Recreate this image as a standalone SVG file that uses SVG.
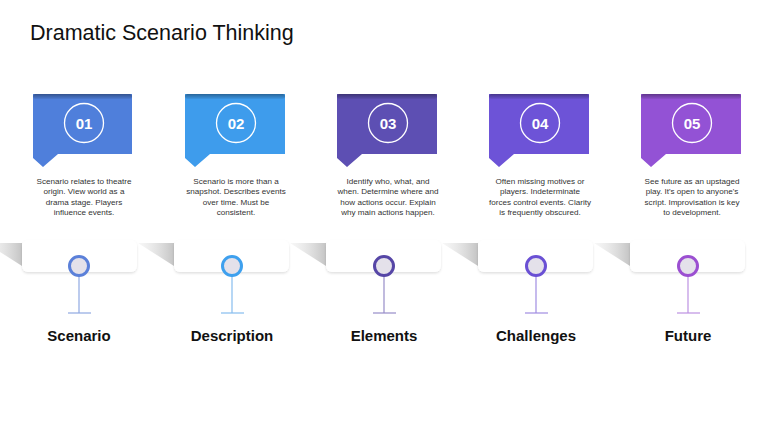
<svg xmlns="http://www.w3.org/2000/svg" width="768" height="432" viewBox="0 0 768 432">
<defs>
<linearGradient id="wedge" x1="0" y1="0" x2="1" y2="0">
<stop offset="0" stop-color="#e6e6e6" stop-opacity="0.3"/>
<stop offset="1" stop-color="#c4c4c4"/>
</linearGradient>
<linearGradient id="band" x1="0" y1="0" x2="0" y2="1">
<stop offset="0" stop-color="#000" stop-opacity="0.35"/>
<stop offset="1" stop-color="#000" stop-opacity="0.05"/>
</linearGradient>
<filter id="sh" x="-10%" y="-30%" width="120%" height="160%">
<feDropShadow dx="0" dy="1.5" stdDeviation="1.2" flood-color="#000" flood-opacity="0.12"/>
</filter>
</defs>
<style>
.title{font-family:"Liberation Sans",Arial,sans-serif;font-size:21.5px;fill:#111}
.num{font-family:"Liberation Sans",Arial,sans-serif;font-size:15px;font-weight:bold;fill:#fff;text-anchor:middle}
.desc{font-family:"Liberation Sans",Arial,sans-serif;font-size:8.1px;fill:#333;text-anchor:middle}
.lab{font-family:"Liberation Sans",Arial,sans-serif;font-size:15px;font-weight:bold;fill:#111;text-anchor:middle}
.ring{fill:none;stroke:#fff;stroke-width:1.3}
.panel{fill:#fff;filter:url(#sh)}
.inner{fill:#e4e1ea}
</style>
<rect width="768" height="432" fill="#fff"/>
<text class="title" x="30" y="40">Dramatic Scenario Thinking</text>

<g id="node1">
<path d="M33,94 H132 V154 H58 L43,167 L33,158 Z" fill="#4F7FDB"/>
<rect x="33" y="94" width="99" height="5" rx="2.5" fill="url(#band)"/>
<circle class="ring" cx="84" cy="123" r="19.5"/>
<text class="num" x="84" y="128.5">01</text>
<text class="desc" x="84" y="184">Scenario relates to theatre</text>
<text class="desc" x="84" y="194.3">origin. View world as a</text>
<text class="desc" x="84" y="204.6">drama stage. Players</text>
<text class="desc" x="84" y="214.9">influence events.</text>
<polygon points="-14,243 22,243 22,266" fill="url(#wedge)"/>
<rect class="panel" x="22" y="240" width="115" height="32" rx="6"/>
<line x1="79" y1="276" x2="79" y2="313" stroke="#8FA8E2" stroke-width="1.2"/>
<line x1="68" y1="313" x2="91" y2="313" stroke="#8FA8E2" stroke-width="1.2"/>
<circle cx="79" cy="266" r="9.5" class="inner" stroke="#5B80D9" stroke-width="3"/>
<text class="lab" x="79" y="341">Scenario</text>
</g>

<g id="node2">
<path d="M185,94 H285 V154 H210 L195,167 L185,158 Z" fill="#3E9CEC"/>
<rect x="185" y="94" width="100" height="5" rx="2.5" fill="url(#band)"/>
<circle class="ring" cx="236" cy="123" r="19.5"/>
<text class="num" x="236" y="128.5">02</text>
<text class="desc" x="236" y="184">Scenario is more than a</text>
<text class="desc" x="236" y="194.3">snapshot. Describes events</text>
<text class="desc" x="236" y="204.6">over time. Must be</text>
<text class="desc" x="236" y="214.9">consistent.</text>
<polygon points="138,243 174,243 174,266" fill="url(#wedge)"/>
<rect class="panel" x="174" y="240" width="115" height="32" rx="6"/>
<line x1="232" y1="276" x2="232" y2="313" stroke="#86BDEF" stroke-width="1.2"/>
<line x1="221" y1="313" x2="244" y2="313" stroke="#86BDEF" stroke-width="1.2"/>
<circle cx="232" cy="266" r="9.5" class="inner" stroke="#3EA0EE" stroke-width="3"/>
<text class="lab" x="232" y="341">Description</text>
</g>

<g id="node3">
<path d="M337,94 H437 V154 H362 L347,167 L337,158 Z" fill="#5D4FB3"/>
<rect x="337" y="94" width="100" height="5" rx="2.5" fill="url(#band)"/>
<circle class="ring" cx="388" cy="123" r="19.5"/>
<text class="num" x="388" y="128.5">03</text>
<text class="desc" x="388" y="184">Identify who, what, and</text>
<text class="desc" x="388" y="194.3">when. Determine where and</text>
<text class="desc" x="388" y="204.6">how actions occur. Explain</text>
<text class="desc" x="388" y="214.9">why main actions happen.</text>
<polygon points="290,243 326,243 326,266" fill="url(#wedge)"/>
<rect class="panel" x="326" y="240" width="115" height="32" rx="6"/>
<line x1="384" y1="276" x2="384" y2="313" stroke="#978DC8" stroke-width="1.2"/>
<line x1="373" y1="313" x2="396" y2="313" stroke="#978DC8" stroke-width="1.2"/>
<circle cx="384" cy="266" r="9.5" class="inner" stroke="#5646A6" stroke-width="3"/>
<text class="lab" x="384" y="341">Elements</text>
</g>

<g id="node4">
<path d="M489,94 H589 V154 H514 L499,167 L489,158 Z" fill="#6D53D7"/>
<rect x="489" y="94" width="100" height="5" rx="2.5" fill="url(#band)"/>
<circle class="ring" cx="540" cy="123" r="19.5"/>
<text class="num" x="540" y="128.5">04</text>
<text class="desc" x="540" y="184">Often missing motives or</text>
<text class="desc" x="540" y="194.3">players. Indeterminate</text>
<text class="desc" x="540" y="204.6">forces control events. Clarity</text>
<text class="desc" x="540" y="214.9">is frequently obscured.</text>
<polygon points="442,243 478,243 478,266" fill="url(#wedge)"/>
<rect class="panel" x="478" y="240" width="115" height="32" rx="6"/>
<line x1="536" y1="276" x2="536" y2="313" stroke="#A08DE2" stroke-width="1.2"/>
<line x1="525" y1="313" x2="548" y2="313" stroke="#A08DE2" stroke-width="1.2"/>
<circle cx="536" cy="266" r="9.5" class="inner" stroke="#6A50D4" stroke-width="3"/>
<text class="lab" x="536" y="341">Challenges</text>
</g>

<g id="node5">
<path d="M641,94 H741 V154 H666 L651,167 L641,158 Z" fill="#9352D5"/>
<rect x="641" y="94" width="100" height="5" rx="2.5" fill="url(#band)"/>
<circle class="ring" cx="692" cy="123" r="19.5"/>
<text class="num" x="692" y="128.5">05</text>
<text class="desc" x="692" y="184">See future as an upstaged</text>
<text class="desc" x="692" y="194.3">play. It's open to anyone's</text>
<text class="desc" x="692" y="204.6">script. Improvisation is key</text>
<text class="desc" x="692" y="214.9">to development.</text>
<polygon points="594,243 630,243 630,266" fill="url(#wedge)"/>
<rect class="panel" x="630" y="240" width="115" height="32" rx="6"/>
<line x1="688" y1="276" x2="688" y2="313" stroke="#BC92E2" stroke-width="1.2"/>
<line x1="677" y1="313" x2="700" y2="313" stroke="#BC92E2" stroke-width="1.2"/>
<circle cx="688" cy="266" r="9.5" class="inner" stroke="#9B4FD1" stroke-width="3"/>
<text class="lab" x="688" y="341">Future</text>
</g>

<g id="connectors"></g>
</svg>
